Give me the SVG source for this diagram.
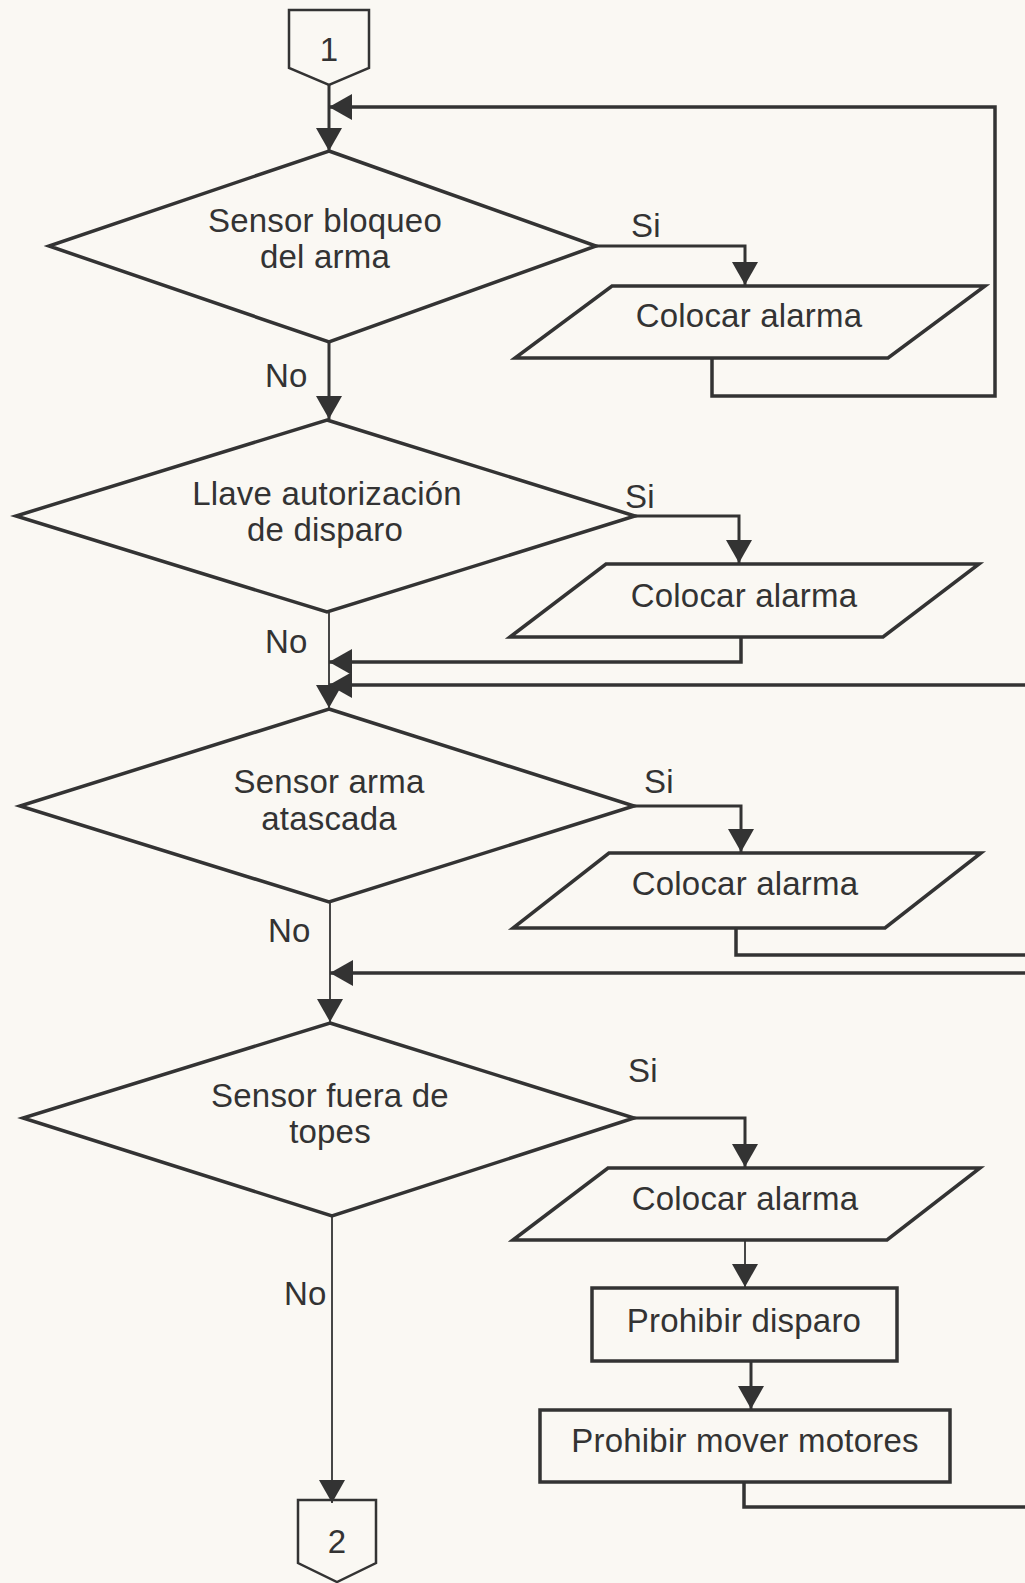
<svg xmlns="http://www.w3.org/2000/svg" width="1025" height="1583" viewBox="0 0 1025 1583">
<style>
.shape{fill:none;stroke:#333333;stroke-width:3.5;stroke-linejoin:miter}
.conn{fill:none;stroke:#333333;stroke-width:2.5}
.line{fill:none;stroke:#333333;stroke-width:3.5}
.thin{fill:none;stroke:#333333;stroke-width:1.8}
.mid{fill:none;stroke:#333333;stroke-width:3}
text{font-family:"Liberation Sans",Arial,Helvetica,sans-serif;font-size:33px;fill:#333333;letter-spacing:0.2px}
.c{text-anchor:middle}
</style>
<defs>
<marker id="ah" markerUnits="userSpaceOnUse" viewBox="0 0 23 26" markerWidth="23" markerHeight="26" refX="23" refY="13" orient="auto">
<path d="M0,0 L23,13 L0,26 z" fill="#333333"/>
</marker>
</defs>
<rect width="1025" height="1583" fill="#faf8f3"/>

<g id="connectors">
<path class="mid" d="M329,85 V151" marker-end="url(#ah)"/>
<path class="mid" d="M329,342 V419" marker-end="url(#ah)"/>
<path class="thin" d="M329,612 V708" marker-end="url(#ah)"/>
<path class="thin" d="M330,902 V1022" marker-end="url(#ah)"/>
<path class="thin" d="M332,1216 V1503" marker-end="url(#ah)"/>
<path class="mid" d="M596,246 H745 V285" marker-end="url(#ah)"/>
<path class="mid" d="M635,516 H739 V563" marker-end="url(#ah)"/>
<path class="mid" d="M634,806 H741 V852" marker-end="url(#ah)"/>
<path class="mid" d="M634,1118 H745 V1167" marker-end="url(#ah)"/>
<path class="line" d="M712,358 V396 H995 V107 H329" marker-end="url(#ah)"/>
<path class="line" d="M741,637 V662 H329" marker-end="url(#ah)"/>
<path class="line" d="M1025,685 H329" marker-end="url(#ah)"/>
<path class="line" d="M736,928 V955 H1025"/>
<path class="line" d="M1025,973 H330" marker-end="url(#ah)"/>
<path class="thin" d="M745,1240 V1287" marker-end="url(#ah)"/>
<path class="mid" d="M751,1361 V1409" marker-end="url(#ah)"/>
<path class="line" d="M744,1482 V1507 H1025"/>
</g>

<g id="start1">
<path class="conn" d="M289,10 H369 V68 L329,85 L289,68 Z"/>
<text class="c" x="329" y="61">1</text>
</g>

<g id="d1">
<path class="shape" d="M329,151 L596,246 L329,342 L49,246 Z"/>
<text class="c" x="325" y="232">Sensor bloqueo</text>
<text class="c" x="325" y="268">del arma</text>
</g>
<g id="p1">
<path class="shape" d="M612,286 H985 L888,358 H515 Z"/>
<text class="c" x="749" y="327">Colocar alarma</text>
</g>

<g id="d2">
<path class="shape" d="M327,420 L635,516 L327,612 L16,516 Z"/>
<text class="c" x="327" y="505">Llave autorización</text>
<text class="c" x="325" y="541">de disparo</text>
</g>
<g id="p2">
<path class="shape" d="M606,564 H979 L883,637 H510 Z"/>
<text class="c" x="744" y="607">Colocar alarma</text>
</g>

<g id="d3">
<path class="shape" d="M329,709 L634,806 L329,902 L20,806 Z"/>
<text class="c" x="329" y="793">Sensor arma</text>
<text class="c" x="329" y="830">atascada</text>
</g>
<g id="p3">
<path class="shape" d="M609,853 H981 L885,928 H513 Z"/>
<text class="c" x="745" y="895">Colocar alarma</text>
</g>

<g id="d4">
<path class="shape" d="M330,1023 L634,1118 L332,1216 L23,1118 Z"/>
<text class="c" x="330" y="1107">Sensor fuera de</text>
<text class="c" x="330" y="1143">topes</text>
</g>
<g id="p4">
<path class="shape" d="M608,1168 H980 L887,1240 H513 Z"/>
<text class="c" x="745" y="1210">Colocar alarma</text>
</g>

<g id="r1">
<rect class="shape" x="592" y="1288" width="305" height="73"/>
<text class="c" x="744" y="1332">Prohibir disparo</text>
</g>
<g id="r2">
<rect class="shape" x="540" y="1410" width="410" height="72"/>
<text class="c" x="745" y="1452">Prohibir mover motores</text>
</g>

<g id="end2">
<path class="conn" d="M298,1500 H376 V1563 L337,1582 L298,1563 Z"/>
<text class="c" x="337" y="1553">2</text>
</g>

<g id="labels">
<text x="631" y="237">Si</text>
<text x="265" y="387">No</text>
<text x="625" y="508">Si</text>
<text x="265" y="653">No</text>
<text x="644" y="793">Si</text>
<text x="268" y="942">No</text>
<text x="628" y="1082">Si</text>
<text x="284" y="1305">No</text>
</g>
</svg>
